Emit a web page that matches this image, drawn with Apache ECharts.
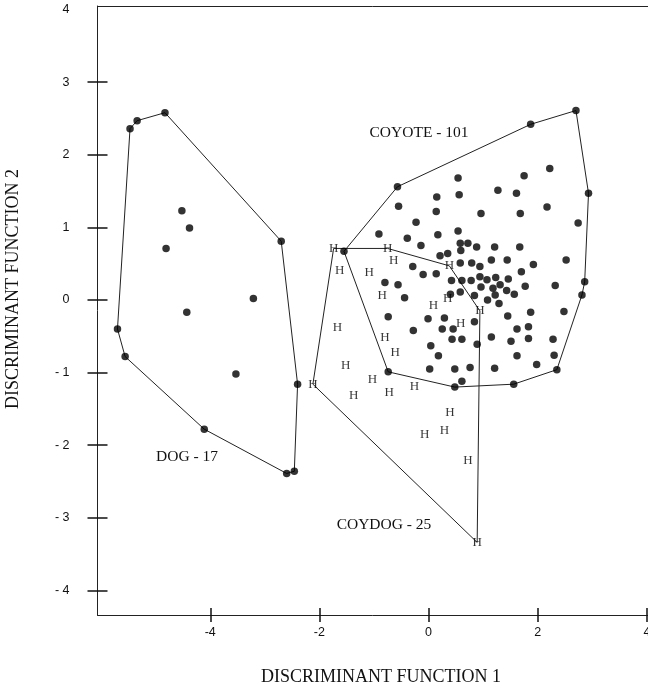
<!DOCTYPE html>
<html>
<head>
<meta charset="utf-8">
<script src="https://cdn.jsdelivr.net/npm/echarts@6/dist/echarts.min.js"></script>
<style>
  html, body { margin: 0; padding: 0; background: #fff; }
  #chart { width: 648px; height: 690px; }
</style>
</head>
<body>
<div id="chart"></div>
<script>
// ---- Data ----
const xTickValues = [-4, -2, 0, 2, 4];
const yTickValues = [-4, -3, -2, -1, 0, 1, 2, 3];
const yLabelValues = [-4, -3, -2, -1, 0, 1, 2, 3, 4];

const xTitle = 'DISCRIMINANT FUNCTION 1';
const yTitle = 'DISCRIMINANT FUNCTION 2';

const groupLabels = ['DOG - 17', 'COYOTE - 101', 'COYDOG - 25'];

// Dog: convex hull vertices (in drawing order) and interior points
const dogHull = [
  [-4.83, 2.58], [-2.70, 0.81], [-2.40, -1.16], [-2.46, -2.36], [-2.60, -2.39],
  [-4.11, -1.78], [-5.56, -0.78], [-5.70, -0.40], [-5.47, 2.36], [-5.34, 2.47]
];
const dogInterior = [
  [-4.52, 1.23], [-4.38, 0.99], [-4.81, 0.71], [-3.21, 0.02], [-4.43, -0.17], [-3.53, -1.02]
];

// Coyote: hull vertices and interior points
const coyoteHull = [
  [-0.57, 1.56], [1.87, 2.42], [2.70, 2.61], [2.93, 1.47], [2.86, 0.25], [2.81, 0.07],
  [2.35, -0.96], [1.56, -1.16], [0.48, -1.20], [-0.74, -0.99], [-1.55, 0.67]
];
const coyoteInterior = [
  [2.22, 1.81], [1.75, 1.71], [0.54, 1.68], [0.15, 1.42], [0.56, 1.45], [1.27, 1.51],
  [1.61, 1.47], [-0.55, 1.29], [0.14, 1.22], [0.96, 1.19], [1.68, 1.19], [2.17, 1.28],
  [-0.23, 1.07], [2.74, 1.06], [-0.91, 0.91], [0.54, 0.95], [0.17, 0.90], [-0.39, 0.85],
  [-0.14, 0.75], [0.58, 0.78], [0.72, 0.78], [0.88, 0.73], [1.21, 0.73], [1.67, 0.73],
  [0.21, 0.61], [0.35, 0.64], [0.59, 0.68], [1.15, 0.55], [1.44, 0.55], [1.92, 0.49],
  [2.52, 0.55], [-0.29, 0.46], [-0.10, 0.35], [0.14, 0.36], [0.58, 0.51], [0.79, 0.51],
  [0.94, 0.46], [1.70, 0.39], [-0.80, 0.24], [-0.56, 0.21], [0.42, 0.27], [0.61, 0.27],
  [0.78, 0.27], [0.94, 0.32], [1.07, 0.28], [1.23, 0.31], [1.46, 0.29], [-0.44, 0.03],
  [0.40, 0.08], [0.58, 0.11], [0.84, 0.06], [0.96, 0.18], [1.18, 0.16], [1.31, 0.21],
  [1.43, 0.13], [1.57, 0.08], [1.77, 0.19], [2.32, 0.20], [1.08, 0.00], [1.29, -0.05],
  [1.22, 0.07], [-0.74, -0.23], [-0.01, -0.26], [0.29, -0.25], [1.45, -0.22], [1.87, -0.17],
  [2.48, -0.16], [0.84, -0.30], [0.25, -0.40], [0.45, -0.40], [1.62, -0.40], [1.83, -0.37],
  [-0.28, -0.42], [1.15, -0.51], [0.43, -0.54], [0.61, -0.54], [1.51, -0.57], [1.83, -0.53],
  [2.28, -0.54], [0.04, -0.63], [0.89, -0.61], [0.18, -0.77], [1.62, -0.77], [2.30, -0.76],
  [0.02, -0.95], [0.48, -0.95], [0.76, -0.93], [1.21, -0.94], [1.98, -0.89], [0.61, -1.12]
];

// Coydog: hull vertices and interior points
const coydogHull = [
  [-1.74, 0.71], [-0.75, 0.71], [0.38, 0.47], [0.94, -0.15], [0.89, -3.34], [-2.12, -1.16]
];
const coydogInterior = [
  [-1.63, 0.41], [-1.09, 0.38], [-0.64, 0.54], [-0.85, 0.06], [0.35, 0.02], [0.09, -0.08],
  [0.59, -0.33], [-1.67, -0.38], [-0.80, -0.52], [-0.61, -0.72], [-1.52, -0.90], [-1.03, -1.10],
  [-1.37, -1.32], [-0.72, -1.27], [-0.26, -1.19], [0.39, -1.55], [-0.07, -1.85], [0.29, -1.80],
  [0.72, -2.21]
];

// ---- Chart ----
const ink = '#000';
const closeLoop = pts => pts.concat([pts[0]]);
const negLabelY = v => (v < 0 ? '- ' + Math.abs(v) : String(v));
const negLabelX = v => (v < 0 ? '-' + Math.abs(v) : String(v));

const xRange = { min: -6.066, max: 4.02 };
const yRange = { min: -4.34, max: 4.05 };

function hullLine(pts) {
  return {
    type: 'line', data: closeLoop(pts), symbol: 'none', silent: true,
    lineStyle: { color: '#222', width: 1 }, z: 2, animation: false
  };
}
function dots(pts) {
  return {
    type: 'scatter', data: pts, symbol: 'circle', symbolSize: 7.5, silent: true,
    itemStyle: { color: ink }, z: 3, animation: false
  };
}
function hMarks(pts) {
  return {
    type: 'scatter', data: pts, symbol: 'rect', symbolSize: 1, silent: true,
    itemStyle: { color: 'rgba(0,0,0,0)' }, z: 4, animation: false,
    label: {
      show: true, formatter: 'H', position: 'inside',
      fontFamily: 'Liberation Serif', fontSize: 13, color: '#000'
    }
  };
}

const chart = echarts.init(document.getElementById('chart'), null, { renderer: 'canvas' });
chart.setOption({
  animation: false,
  backgroundColor: '#fff',
  grid: { left: 97.5, top: 6, right: 0, bottom: 75, show: false, outerBoundsMode: 'none', containLabel: false },
  xAxis: [
    {
      type: 'value', min: xRange.min, max: xRange.max, position: 'bottom',
      axisLine: { show: true, onZero: false, lineStyle: { color: '#222', width: 1 } },
      axisTick: { show: true, inside: false, length: 7, customValues: xTickValues, lineStyle: { color: '#111', width: 1.5 } },
      axisLabel: { show: true, customValues: xTickValues, formatter: negLabelX, margin: 11,
        fontFamily: 'Liberation Sans', fontSize: 12.5, color: '#111' },
      splitLine: { show: false }
    },
    {
      type: 'value', min: xRange.min, max: xRange.max, position: 'bottom',
      axisLine: { show: false, onZero: false },
      axisTick: { show: true, inside: true, length: 7, customValues: xTickValues, lineStyle: { color: '#111', width: 1.5 } },
      axisLabel: { show: false },
      splitLine: { show: false }
    },
    {
      type: 'value', min: xRange.min, max: xRange.max, position: 'top',
      axisLine: { show: true, onZero: false, lineStyle: { color: '#222', width: 1 } },
      axisTick: { show: false },
      axisLabel: { show: false },
      splitLine: { show: false }
    }
  ],
  yAxis: [
    {
      type: 'value', min: yRange.min, max: yRange.max, position: 'left',
      axisLine: { show: true, onZero: false, lineStyle: { color: '#222', width: 1 } },
      axisTick: { show: true, inside: false, length: 10, customValues: yTickValues, lineStyle: { color: '#111', width: 1.5 } },
      axisLabel: { show: true, customValues: yLabelValues, formatter: negLabelY, margin: 28,
        fontFamily: 'Liberation Sans', fontSize: 12.5, color: '#111' },
      splitLine: { show: false }
    },
    {
      type: 'value', min: yRange.min, max: yRange.max, position: 'left',
      axisLine: { show: false, onZero: false },
      axisTick: { show: true, inside: true, length: 10, customValues: yTickValues, lineStyle: { color: '#111', width: 1.5 } },
      axisLabel: { show: false },
      splitLine: { show: false }
    }
  ],
  series: [
    hullLine(dogHull),
    hullLine(coyoteHull),
    hullLine(coydogHull),
    dots(dogHull),
    dots(dogInterior),
    dots(coyoteHull),
    dots(coyoteInterior),
    hMarks(coydogHull),
    hMarks(coydogInterior)
  ],
  graphic: [
    { type: 'text', left: 382 - 121, top: 668, style: { text: xTitle, font: '18px "Liberation Serif"', fill: '#111' } },
    { type: 'text', x: 13, y: 289, rotation: Math.PI / 2,
      style: { text: yTitle, font: '18px "Liberation Serif"', fill: '#111', align: 'center', verticalAlign: 'middle' } },
    { type: 'text', x: 187, y: 457, style: { text: groupLabels[0], font: '15.5px "Liberation Serif"', fill: '#111', align: 'center', verticalAlign: 'middle' } },
    { type: 'text', x: 419, y: 133, style: { text: groupLabels[1], font: '15.5px "Liberation Serif"', fill: '#111', align: 'center', verticalAlign: 'middle' } },
    { type: 'text', x: 384, y: 525, style: { text: groupLabels[2], font: '15.5px "Liberation Serif"', fill: '#111', align: 'center', verticalAlign: 'middle' } }
  ]
});
</script>
</body>
</html>
